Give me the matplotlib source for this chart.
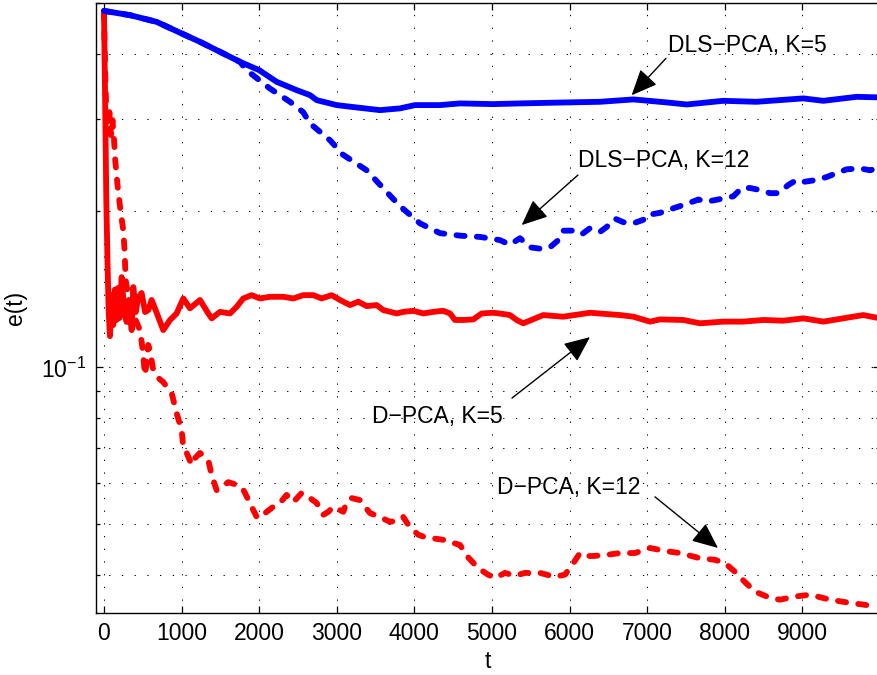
import numpy as np
import matplotlib
matplotlib.use("Agg")
import matplotlib.pyplot as plt
from matplotlib.ticker import LogLocator, NullFormatter, FixedLocator

plt.rcParams["font.family"] = ["Liberation Sans", "DejaVu Sans"]
plt.rcParams["mathtext.fontset"] = "custom"
plt.rcParams["mathtext.rm"] = "Liberation Sans"
plt.rcParams["mathtext.it"] = "Liberation Sans:italic"
plt.rcParams["mathtext.bf"] = "Liberation Sans:bold"

# ---- error curves e(t) ----
t_dls5 = [0, 335, 679, 1001, 1237, 1537, 1753, 2001, 2225, 2483, 2655, 2741, 2999, 3256,
          3557, 3814, 4008, 4330, 4588, 5017, 5361, 5963, 6392, 6821, 7251, 7509, 7981,
          8410, 9012, 9270, 9700, 10000]
e_dls5 = [0.4835, 0.4745, 0.4606, 0.4376, 0.4217, 0.4006, 0.3860, 0.3720, 0.3534, 0.3406,
          0.3332, 0.3259, 0.3188, 0.3155, 0.3118, 0.3142, 0.3188, 0.3188, 0.3212, 0.3202,
          0.3212, 0.3226, 0.3235, 0.3269, 0.3226, 0.3197, 0.3249, 0.3235, 0.3284, 0.3249,
          0.3307, 0.3298]

t_dls12 = [0, 335, 679, 1001, 1237, 1537, 1753, 1839, 2139, 2397, 2567, 2655, 2912, 3080,
           3385, 3595, 3814, 4072, 4330, 4588, 4845, 5103, 5232, 5361, 5490, 5619, 5747,
           5855, 5919, 6048, 6156, 6263, 6392, 6478, 6585, 6692, 6821, 6950, 6993, 7165,
           7336, 7509, 7659, 7767, 7981, 8110, 8218, 8325, 8454, 8582, 8690, 8819, 8926,
           9012, 9184, 9313, 9442, 9570, 9742, 9871, 10000]
e_dls12 = [0.4835, 0.4745, 0.4606, 0.4376, 0.4217, 0.4006, 0.3860, 0.3720, 0.3430, 0.3235,
           0.3090, 0.2940, 0.2730, 0.2560, 0.2390, 0.2210, 0.2040, 0.1890, 0.1810, 0.1790,
           0.1780, 0.1755, 0.1720, 0.1770, 0.1700, 0.1690, 0.1700, 0.1755, 0.1830, 0.1830,
           0.1800, 0.1850, 0.1820, 0.1860, 0.1930, 0.1900, 0.1890, 0.1920, 0.1960, 0.1980,
           0.2020, 0.2060, 0.2100, 0.2080, 0.2110, 0.2130, 0.2210, 0.2210, 0.2190, 0.2160,
           0.2160, 0.2240, 0.2290, 0.2270, 0.2290, 0.2320, 0.2360, 0.2400, 0.2410, 0.2390,
           0.2420]

t_d5 = [0, 15, 30, 45, 60, 77, 100, 120, 140, 160, 180, 200, 228, 260, 292, 320, 357, 378,
        410, 440, 485, 530, 571, 614, 679, 764, 851, 936, 1022, 1108, 1237, 1344, 1388,
        1495, 1624, 1710, 1795, 1903, 2010, 2139, 2311, 2440, 2568, 2697, 2805, 2934, 3041,
        3170, 3277, 3385, 3514, 3600, 3772, 3857, 3986, 4115, 4244, 4372, 4459, 4523, 4630,
        4759, 4867, 5017, 5146, 5232, 5318, 5403, 5661, 5919, 6263, 6649, 6821, 7036, 7165,
        7465, 7680, 7981, 8239, 8496, 8754, 9012, 9270, 9527, 9785, 10000]
e_d5 = [0.4824, 0.3260, 0.2100, 0.1610, 0.1288, 0.1148, 0.1376, 0.1206, 0.1410, 0.1233,
        0.1420, 0.1244, 0.1490, 0.1288, 0.1222, 0.1347, 0.1179, 0.1426, 0.1277, 0.1360,
        0.1389, 0.1277, 0.1288, 0.1347, 0.1273, 0.1179, 0.1233, 0.1269, 0.1356, 0.1298,
        0.1347, 0.1269, 0.1242, 0.1278, 0.1269, 0.1307, 0.1356, 0.1376, 0.1356, 0.1366,
        0.1366, 0.1356, 0.1376, 0.1376, 0.1356, 0.1376, 0.1347, 0.1317, 0.1337, 0.1311,
        0.1317, 0.1288, 0.1269, 0.1278, 0.1284, 0.1269, 0.1278, 0.1284, 0.1269, 0.1233,
        0.1233, 0.1236, 0.1269, 0.1273, 0.1266, 0.1260, 0.1233, 0.1215, 0.1260, 0.1251,
        0.1273, 0.1260, 0.1251, 0.1224, 0.1236, 0.1233, 0.1215, 0.1224, 0.1224, 0.1233,
        0.1229, 0.1242, 0.1224, 0.1242, 0.1260, 0.1242]

t_d12 = [0, 15, 30, 50, 70, 90, 110, 130, 145, 176, 206, 249, 265, 280, 310, 340, 400, 464,
         500, 528, 545, 570, 593, 630, 657, 700, 764, 820, 872, 936, 1001, 1022, 1066, 1130,
         1151, 1237, 1344, 1388, 1452, 1517, 1602, 1710, 1775, 1817, 1903, 1968, 2010, 2097,
         2182, 2268, 2354, 2440, 2548, 2655, 2741, 2826, 2891, 2955, 3084, 3127, 3192, 3299,
         3363, 3428, 3557, 3686, 3814, 3857, 3943, 4051, 4137, 4394, 4459, 4588, 4691, 4820,
         4948, 5039, 5168, 5296, 5425, 5619, 5812, 5941, 6031, 6134, 6263, 6456, 6649, 6843,
         7036, 7229, 7423, 7680, 7874, 8003, 8131, 8260, 8389, 8582, 8711, 8905, 9098, 9356,
         9613, 9807, 10000]
e_d12 = [0.4824, 0.3720, 0.3120, 0.2918, 0.3090, 0.2792, 0.2983, 0.2730, 0.2499, 0.2228,
         0.2040, 0.1830, 0.1680, 0.1471, 0.1376, 0.1288, 0.1240, 0.1179, 0.1079, 0.0966,
         0.1010, 0.1104, 0.1079, 0.0997, 0.0979, 0.0954, 0.0937, 0.0913, 0.0893, 0.0817,
         0.0758, 0.0703, 0.0685, 0.0650, 0.0664, 0.0685, 0.0664, 0.0621, 0.0581, 0.0589,
         0.0602, 0.0595, 0.0589, 0.0574, 0.0540, 0.0516, 0.0514, 0.0528, 0.0540, 0.0549,
         0.0569, 0.0551, 0.0574, 0.0561, 0.0549, 0.0521, 0.0528, 0.0540, 0.0528, 0.0551,
         0.0561, 0.0556, 0.0540, 0.0525, 0.0516, 0.0505, 0.0509, 0.0516, 0.0493, 0.0477,
         0.0472, 0.0466, 0.0462, 0.0456, 0.0432, 0.0412, 0.0400, 0.0394, 0.0403, 0.0398,
         0.0403, 0.0403, 0.0396, 0.0400, 0.0417, 0.0440, 0.0434, 0.0436, 0.0440, 0.0440,
         0.0450, 0.0444, 0.0440, 0.0430, 0.0427, 0.0421, 0.0405, 0.0387, 0.0371, 0.0361,
         0.0358, 0.0363, 0.0366, 0.0358, 0.0353, 0.0350, 0.0345]

x_ticks = [0, 1000, 2000, 3000, 4000, 5000, 6000, 7000, 8000, 9000]

FS = 16.5
LW = 4.2
DASH = (0, (1.4, 2.1))

fig = plt.figure(figsize=(8.77, 6.75), dpi=100)
ax = fig.add_axes([0.1097, 0.0923, 0.8937, 0.9028])

ax.plot(t_d12, e_d12, color="red", lw=LW, linestyle=DASH, dash_capstyle="round",
        solid_joinstyle="round")
ax.plot(t_dls12, e_dls12, color="blue", lw=LW, linestyle=DASH, dash_capstyle="round",
        solid_joinstyle="round")
ax.plot(t_d5, e_d5, color="red", lw=LW, solid_joinstyle="round", solid_capstyle="round")
ax.plot(t_dls5, e_dls5, color="blue", lw=LW, solid_joinstyle="round", solid_capstyle="round")

ax.set_yscale("log")
ax.set_xlim(-100, 10000)
ax.set_ylim(0.0338, 0.5)

ax.xaxis.set_major_locator(FixedLocator(x_ticks))
ax.yaxis.set_major_locator(LogLocator(base=10))
ax.yaxis.set_minor_locator(LogLocator(base=10, subs=np.arange(2, 10)))
ax.yaxis.set_minor_formatter(NullFormatter())

grid_style = dict(color="black", linestyle=(0, (1.2, 11)), linewidth=0.75)
ax.grid(True, which="major", axis="x", **grid_style)
ax.grid(True, which="both", axis="y", **grid_style)
ax.set_axisbelow(True)

ax.tick_params(which="both", direction="in", top=True, right=True, labelsize=FS,
               width=0.9, pad=7)
ax.tick_params(which="major", length=5)
ax.tick_params(which="minor", length=3)
for sp in ax.spines.values():
    sp.set_linewidth(1.0)

ax.set_xlabel("t", fontsize=FS, labelpad=3)
ax.set_ylabel("e(t)", fontsize=FS, labelpad=10)

arrow = dict(arrowstyle="-|>,head_length=0.8,head_width=0.35", mutation_scale=20,
             color="black", lw=1.0, shrinkA=0, shrinkB=0)


def note(label, text_xy, tail_xy, tip_xy):
    ax.annotate("", xy=tip_xy, xytext=tail_xy, arrowprops=arrow)
    ax.text(text_xy[0], text_xy[1], label, fontsize=FS, ha="left", va="center")


note("DLS\u2212PCA, K=5", (7268, 0.4155), (7242, 0.392), (6800, 0.333))
note("DLS\u2212PCA, K=12", (6108, 0.249), (6108, 0.234), (5383, 0.1876))
note("D\u2212PCA, K=5", (3454, 0.0806), (5258, 0.0873), (6263, 0.1143))
note("D\u2212PCA, K=12", (5064, 0.0589), (7101, 0.0564), (7912, 0.0450))

fig.savefig("out.png", dpi=100)
